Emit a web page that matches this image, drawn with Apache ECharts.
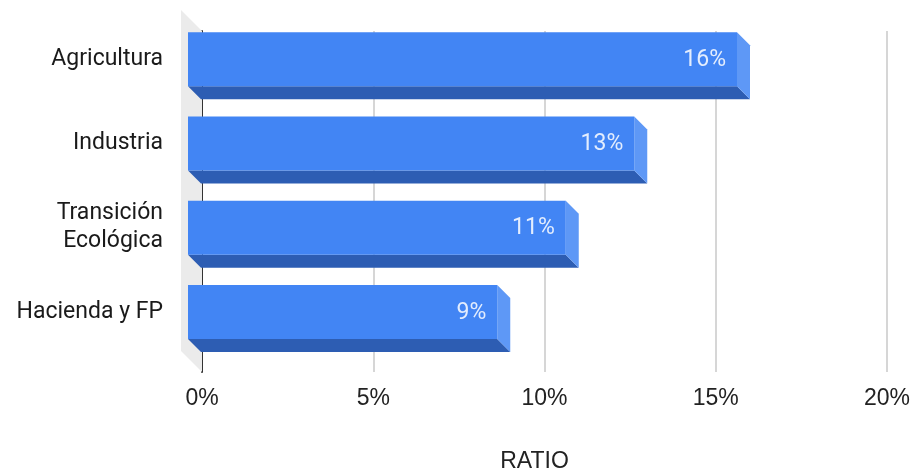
<!DOCTYPE html>
<html>
<head>
<meta charset="utf-8">
<script src="https://cdn.jsdelivr.net/npm/echarts@6/dist/echarts.min.js"></script>
<style>
html,body{margin:0;padding:0;background:#fff;}
#chart{width:912px;height:471px;}
</style>
</head>
<body>
<div id="chart"></div>
<script>
const categories = ['Agricultura', 'Industria', 'Transición\nEcológica', 'Hacienda y FP'];
const ratioValues = [16, 13, 11, 9];
const valueLabels = ['16%', '13%', '11%', '9%'];
const axisMin = 0, axisMax = 20, axisStep = 5;
const axisTitle = 'RATIO';

const FRONT = '#4285F4', BOTTOM = '#2D5DB3', SIDE = '#5E98F6';
const D = 13, HALF = 27;

const chart = echarts.init(document.getElementById('chart'), null, {renderer: 'canvas'});

function renderBar(params, api) {
  const v = api.value(0), c = api.value(1);
  const p0 = api.coord([0, c]);
  const p1 = api.coord([v, c]);
  const x0 = p0[0], x1 = p1[0], yc = p0[1];
  const fl = x0 - 14, fr = x1 - D, ft = yc - HALF, fb = yc + HALF;
  return {
    type: 'group',
    children: [
      {type: 'polygon', shape: {points: [[fl, fb], [fr, fb], [x1, fb + D], [x0 - 1, fb + D]]}, style: {fill: BOTTOM}},
      {type: 'polygon', shape: {points: [[fr, ft], [x1, ft + D], [x1, fb + D], [fr, fb]]}, style: {fill: SIDE}},
      {type: 'rect', shape: {x: fl, y: ft, width: fr - fl, height: fb - ft}, style: {fill: FRONT}},
      {type: 'text', style: {text: valueLabels[params.dataIndex], x: fr - 11, y: yc + 1, align: 'right', verticalAlign: 'middle',
        fill: 'rgba(255,255,255,0.85)', font: '23px Roboto'}}
    ]
  };
}

function renderWall(params, api) {
  const cs = params.coordSys;
  const x = cs.x, t = cs.y, b = cs.y + cs.height, w = 21;
  return {
    type: 'polygon',
    shape: {points: [[x - w, t - w], [x, t], [x, b], [x - w, b - w]]},
    style: {fill: '#ebebeb'}
  };
}

chart.setOption({
  animation: false,
  backgroundColor: '#ffffff',
  grid: [
    {left: 202, width: 685, top: 31, height: 341, containLabel: false, outerBoundsMode: 'none'},
    {left: 202, width: 685, top: 17, height: 337, containLabel: false, outerBoundsMode: 'none'}
  ],
  xAxis: [
    {type: 'value', gridIndex: 0, min: axisMin, max: axisMax, interval: axisStep,
      axisLine: {show: false}, axisTick: {show: false},
      splitLine: {show: true, lineStyle: {color: '#d6d6d6', width: 2}},
      axisLabel: {formatter: '{value}%', fontFamily: 'Liberation Sans', fontSize: 23, color: '#222', margin: 15},
      name: axisTitle, nameLocation: 'middle', nameGap: 78,
      nameTextStyle: {fontFamily: 'Liberation Sans', fontSize: 23, color: '#222', padding: [0, 20, 0, 0]}},
    {type: 'value', gridIndex: 1, min: axisMin, max: axisMax, interval: axisStep, show: false}
  ],
  yAxis: [
    {type: 'category', gridIndex: 0, data: categories, inverse: true,
      axisLine: {show: true, lineStyle: {color: '#333', width: 2}}, axisTick: {show: false}, axisLabel: {show: false}},
    {type: 'category', gridIndex: 1, data: categories, inverse: true,
      axisLine: {show: false}, axisTick: {show: false}, splitLine: {show: false},
      axisLabel: {fontFamily: 'Roboto', fontSize: 23, color: '#1a1a1a', margin: 39, lineHeight: 28, align: 'right'}}
  ],
  series: [
    {type: 'custom', xAxisIndex: 0, yAxisIndex: 0, data: [[0, 0]], renderItem: renderWall, z: 1, silent: true},
    {type: 'custom', xAxisIndex: 1, yAxisIndex: 1, data: ratioValues.map((v, i) => [v, i]),
      encode: {x: 0, y: 1}, renderItem: renderBar, z: 5, clip: false}
  ]
});
</script>
</body>
</html>
